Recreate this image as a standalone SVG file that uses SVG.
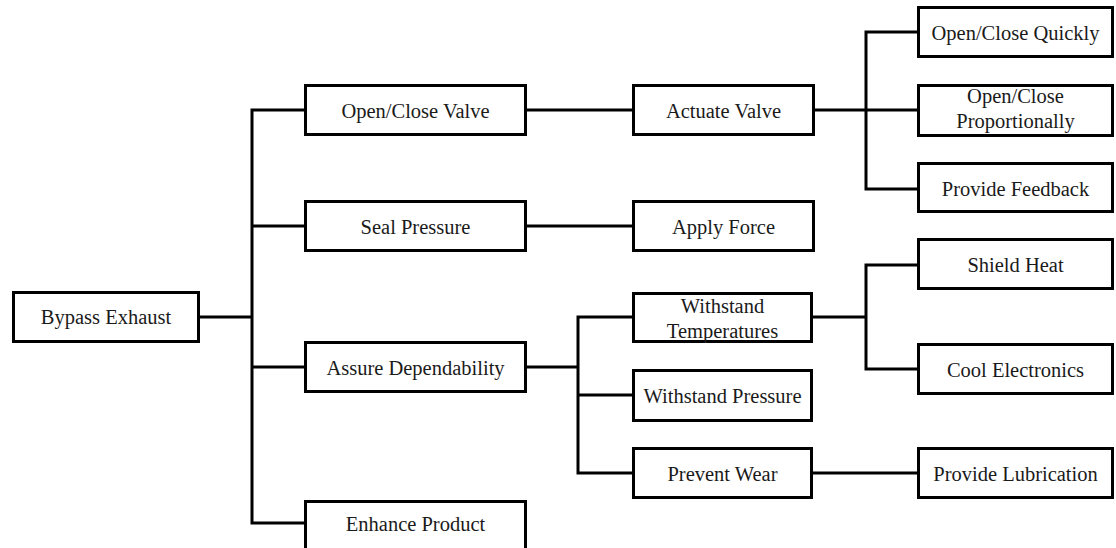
<svg xmlns="http://www.w3.org/2000/svg" width="1116" height="548" viewBox="0 0 1116 548">
<style>
.box{fill:#fff;stroke:#000;stroke-width:3}
.lbl{font-family:"Liberation Serif","Times New Roman",serif;font-size:20.5px;fill:#1a1a1a;text-anchor:middle}
.con{fill:none;stroke:#000;stroke-width:3;stroke-linecap:square}
</style>
<rect width="1116" height="548" fill="#fff"/>
<g id="connectors">
<path class="con" d="M200 317H252M252 110V523M252 110H304M252 226H304M252 367H304M252 523H304"/>
<path class="con" d="M527 110H632M527 226H632"/>
<path class="con" d="M527 367H578M578 317V473M578 317H632M578 395H632M578 473H632"/>
<path class="con" d="M815 110H866M866 32V189M866 32H917M866 110H917M866 189H917"/>
<path class="con" d="M813 317H866M866 265V369M866 265H917M866 369H917"/>
<path class="con" d="M813 473H917"/>
</g>
<g id="bypass-exhaust"><rect class="box" x="13.5" y="292.5" width="185" height="49"/><text class="lbl" x="106" y="324">Bypass Exhaust</text></g>
<g id="open-close-valve"><rect class="box" x="305.5" y="85.5" width="220" height="49"/><text class="lbl" x="415.5" y="118">Open/Close Valve</text></g>
<g id="seal-pressure"><rect class="box" x="305.5" y="201.5" width="220" height="49"/><text class="lbl" x="415.5" y="234">Seal Pressure</text></g>
<g id="assure-dependability"><rect class="box" x="305.5" y="342.5" width="220" height="49"/><text class="lbl" x="415.5" y="375">Assure Dependability</text></g>
<g id="enhance-product"><rect class="box" x="305.5" y="501.5" width="220" height="60"/><text class="lbl" x="415.5" y="531">Enhance Product</text></g>
<g id="actuate-valve"><rect class="box" x="633.5" y="85.5" width="180" height="49"/><text class="lbl" x="723.5" y="118">Actuate Valve</text></g>
<g id="apply-force"><rect class="box" x="633.5" y="201.5" width="180" height="49"/><text class="lbl" x="723.5" y="234">Apply Force</text></g>
<g id="withstand-temperatures"><rect class="box" x="633.5" y="293.5" width="178" height="48"/><text class="lbl" x="722.5" y="313">Withstand</text><text class="lbl" x="722.5" y="338">Temperatures</text></g>
<g id="withstand-pressure"><rect class="box" x="633.5" y="370.5" width="178" height="50"/><text class="lbl" x="722.5" y="403">Withstand Pressure</text></g>
<g id="prevent-wear"><rect class="box" x="633.5" y="448.5" width="178" height="49"/><text class="lbl" x="722.5" y="481">Prevent Wear</text></g>
<g id="open-close-quickly"><rect class="box" x="918.5" y="7.5" width="194" height="49"/><text class="lbl" x="1015.5" y="40">Open/Close Quickly</text></g>
<g id="open-close-proportionally"><rect class="box" x="918.5" y="85.5" width="194" height="50"/><text class="lbl" x="1015.5" y="103">Open/Close</text><text class="lbl" x="1015.5" y="128">Proportionally</text></g>
<g id="provide-feedback"><rect class="box" x="918.5" y="163.5" width="194" height="48"/><text class="lbl" x="1015.5" y="196">Provide Feedback</text></g>
<g id="shield-heat"><rect class="box" x="918.5" y="239.5" width="194" height="49"/><text class="lbl" x="1015.5" y="272">Shield Heat</text></g>
<g id="cool-electronics"><rect class="box" x="918.5" y="344.5" width="194" height="49"/><text class="lbl" x="1015.5" y="377">Cool Electronics</text></g>
<g id="provide-lubrication"><rect class="box" x="918.5" y="448.5" width="194" height="49"/><text class="lbl" x="1015.5" y="481">Provide Lubrication</text></g>
</svg>
